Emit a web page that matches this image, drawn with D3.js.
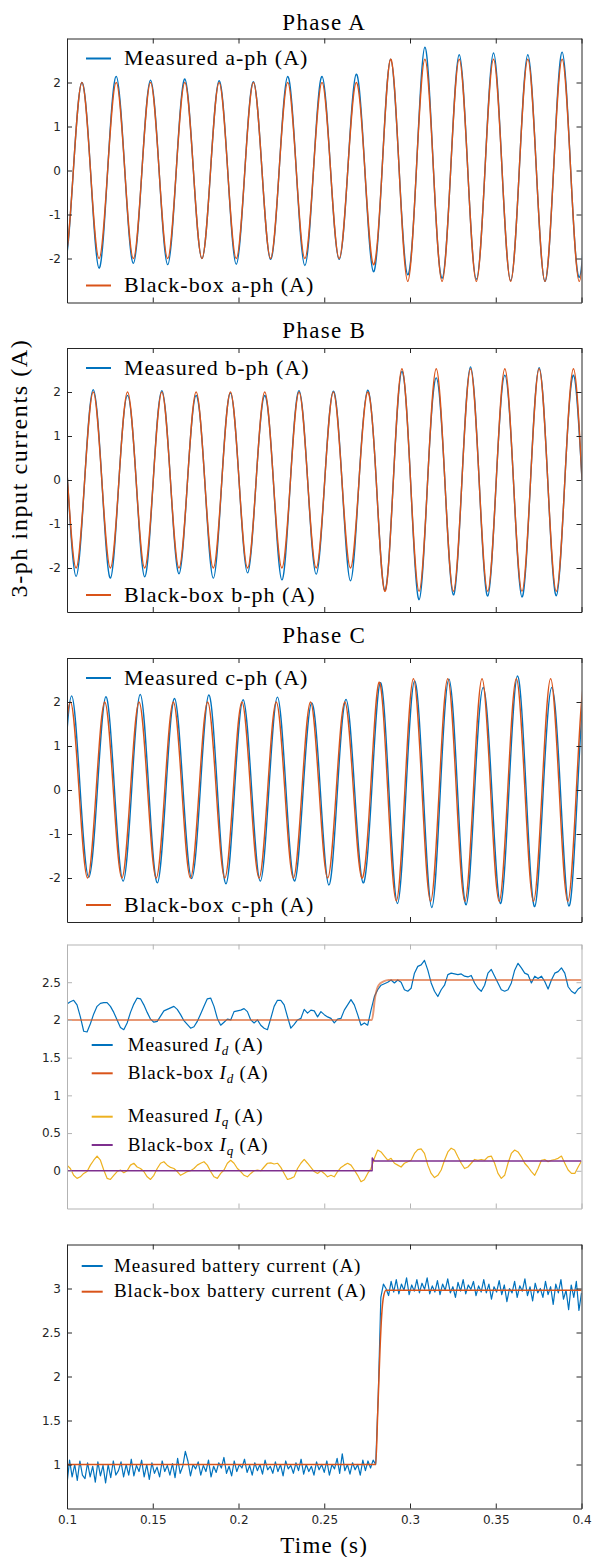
<!DOCTYPE html>
<html><head><meta charset="utf-8">
<script src="https://cdn.jsdelivr.net/npm/d3@7"></script>
<style>
body{margin:0;background:#fff;}
.serif{font-family:"Liberation Serif","DejaVu Serif","Noto Serif",serif;}
</style></head>
<body><svg id="chart" width="593" height="1557"></svg>
<script>
// ---------------- DATA ----------------
const xTicks = [0.1, 0.15, 0.2, 0.25, 0.3, 0.35, 0.4];
const phaseTicks = [-2, -1, 0, 1, 2];
const dqTicks = [0, 0.5, 1, 1.5, 2, 2.5];
const battTicks = [1, 1.5, 2, 2.5, 3];

// Phase currents: successive extrema (peak / trough) values, one every half period (0.01 s, 50 Hz grid)
const halfPeriod = 0.01;
const phaseA_t0 = 0.0987;           // time of first extremum
const phaseA_meas = [-2.1, 2.0, -2.22, 2.14, -2.11, 2.05, -2.14, 2.08, -2.0, 2.04, -2.13, 2.02, -2.02, 2.14, -2.16, 2.14, -2.02, 2.19, -2.30, 2.53, -2.37, 2.80, -2.45, 2.63, -2.47, 2.67, -2.5, 2.63, -2.52, 2.69, -2.43];
const phaseA_bb   = [-2.0, 2.0, -2.0, 2.0, -2.0, 2.0, -2.0, 2.0, -2.0, 2.0, -2.0, 2.0, -2.0, 2.0, -2.0, 2.0, -2.0, 2.0, -2.14, 2.53, -2.52, 2.53, -2.52, 2.53, -2.52, 2.53, -2.52, 2.53, -2.52, 2.53, -2.52];
const phaseB_t0 = 0.0953;
const phaseB_meas = [2.0, -2.19, 2.05, -2.23, 1.92, -2.2, 2.03, -2.13, 1.92, -2.23, 1.98, -2.11, 1.92, -2.27, 2.03, -2.14, 2.02, -2.29, 2.04, -2.51, 2.47, -2.72, 2.32, -2.61, 2.57, -2.64, 2.38, -2.66, 2.55, -2.63, 2.38];
const phaseB_bb   = [2.0, -2.0, 2.0, -2.0, 2.0, -2.0, 2.0, -2.0, 2.0, -2.0, 2.0, -2.0, 2.0, -2.0, 2.0, -2.0, 2.0, -2.0, 2.0, -2.53, 2.53, -2.53, 2.53, -2.53, 2.53, -2.53, 2.53, -2.53, 2.53, -2.53, 2.53];
const phaseC_t0 = 0.092;
const phaseC_measShift = 0.0007;
const phaseC_meas = [-2.0, 2.14, -1.98, 2.12, -2.07, 2.17, -2.11, 2.08, -2.01, 2.16, -2.13, 2.05, -2.07, 2.11, -2.07, 1.98, -2.16, 2.06, -2.11, 2.44, -2.58, 2.48, -2.67, 2.52, -2.61, 2.33, -2.58, 2.59, -2.65, 2.33, -2.64, 2.5];
const phaseC_bb   = [-2.0, 2.0, -2.0, 2.0, -2.0, 2.0, -2.0, 2.0, -2.0, 2.0, -2.0, 2.0, -2.0, 2.0, -2.0, 2.0, -2.0, 2.0, -2.0, 2.45, -2.52, 2.53, -2.53, 2.53, -2.53, 2.53, -2.53, 2.53, -2.53, 2.53, -2.53, 2.53];

// dq currents, sampled uniformly from 0.1 s to 0.4 s
const dqStart = 0.1, dqEnd = 0.4;
const id_meas = [2.21,2.24,2.26,2.2,2.04,1.85,1.84,1.95,2.08,2.18,2.22,2.23,2.23,2.18,2.1,2.0,1.9,1.87,1.96,2.1,
2.21,2.29,2.28,2.2,2.1,2.01,1.97,1.98,2.05,2.12,2.14,2.16,2.18,2.14,2.07,1.99,1.94,1.89,1.91,1.98,
2.08,2.18,2.28,2.29,2.18,2.02,1.93,1.97,2.01,2.0,2.11,2.12,2.13,2.15,2.11,2.0,1.96,2.0,1.93,1.89,
1.87,2.02,2.18,2.26,2.26,2.2,2.04,1.89,1.94,2.0,2.02,2.14,2.09,2.13,2.12,2.04,2.11,2.07,2.04,2.02,
1.96,2.01,2.02,2.13,2.2,2.27,2.2,2.07,1.93,1.96,1.93,2.13,2.31,2.4,2.46,2.48,2.5,2.53,2.49,2.53,
2.5,2.4,2.38,2.42,2.62,2.71,2.73,2.79,2.66,2.49,2.38,2.31,2.4,2.46,2.6,2.62,2.61,2.6,2.61,2.58,
2.57,2.59,2.49,2.42,2.38,2.46,2.62,2.67,2.58,2.49,2.4,2.38,2.4,2.49,2.66,2.75,2.69,2.62,2.6,2.49,
2.58,2.55,2.58,2.51,2.41,2.53,2.62,2.64,2.69,2.62,2.44,2.38,2.35,2.41,2.44];
const iq_meas = [0.075,0.03,-0.06,-0.1,-0.08,-0.035,-0.01,0.075,0.14,0.195,0.14,0.01,-0.1,-0.115,-0.06,-0.01,0.01,-0.025,0,0.075,
0.1,0.05,0.03,-0.01,-0.08,-0.115,-0.06,0.03,0.1,0.12,0.075,0.045,0.03,-0.01,-0.06,-0.035,-0.01,0,0.03,0.075,
0.1,0.12,0.075,-0.01,-0.08,-0.1,-0.035,0.01,0.1,0.14,0.1,0.03,-0.01,-0.06,-0.08,-0.035,0,0.01,0,0.05,
0.1,0.105,0.09,0.1,0.045,-0.035,-0.115,-0.1,-0.08,0.03,0.1,0.15,0.1,0.045,-0.01,-0.035,0,-0.035,-0.08,-0.06,
-0.08,-0.01,0.045,0.075,0.1,0.075,0.01,-0.06,-0.145,-0.12,-0.035,0.03,0.165,0.275,0.25,0.195,0.14,0.165,0.1,0.075,
0.05,0.1,0.12,0.14,0.23,0.28,0.29,0.23,0.075,-0.035,-0.09,-0.06,0.01,0.14,0.25,0.3,0.275,0.185,0.1,0.03,
0.05,0.1,0.15,0.14,0.15,0.14,0.185,0.195,0.1,-0.035,-0.1,-0.06,0.1,0.23,0.275,0.25,0.185,0.1,0.05,-0.01,
-0.06,0.03,0.14,0.15,0.12,0.14,0.15,0.165,0.195,0.1,0.01,-0.035,-0.035,0.05,0.13];
const id_bb_t = [0.1, 0.2778, 0.2797, 0.2817, 0.2846, 0.2875, 0.4];
const id_bb_v = [2.0, 2.0, 2.31, 2.46, 2.51, 2.53, 2.53];
const iq_bb_t = [0.1, 0.2779, 0.2780, 0.2790, 0.4];
const iq_bb_v = [0, 0, 0.17, 0.13, 0.13];

// battery current, sampled every 1.5 ms from 0.1 s
const battStart = 0.1, battDt = 0.0015;
const batt_meas = [0.78,1.05,0.86,1.0,0.82,1.04,0.88,0.84,1.02,0.86,0.98,0.8,1.03,0.87,0.99,0.79,1.0,0.85,1.04,0.88,
0.93,1.03,0.86,1.0,0.88,1.06,0.87,0.99,0.92,1.05,0.86,1.0,0.83,1.02,0.9,0.97,0.86,1.04,0.92,0.99,
0.88,1.01,0.85,1.07,0.9,0.98,1.15,1.04,0.87,1.0,0.95,1.03,0.88,0.99,0.92,1.05,0.86,0.98,0.91,1.02,
0.96,1.08,0.9,0.98,0.87,1.04,0.92,1.0,0.96,1.06,0.91,0.99,0.88,1.02,0.93,1.0,0.89,1.05,0.94,0.98,
0.9,1.03,0.92,1.0,0.87,1.04,0.95,0.99,0.9,1.02,0.93,1.06,0.89,1.0,0.92,0.98,0.88,1.03,0.94,1.0,
0.91,1.04,0.88,1.0,0.95,1.07,0.9,1.12,0.93,1.0,0.89,1.02,0.94,1.0,0.88,1.05,0.93,1.04,0.96,1.05,1.0,
1.8,2.9,3.05,
3.0,2.92,3.08,2.96,3.1,2.94,3.05,2.98,3.12,2.93,3.04,2.97,3.1,2.95,3.06,2.99,3.12,2.94,3.03,2.96,
3.09,2.93,3.05,2.98,3.11,2.95,3.02,2.9,3.07,2.97,3.1,2.94,3.04,2.99,3.08,2.92,3.03,2.96,3.1,2.95,
3.05,2.88,3.02,2.96,3.09,2.93,3.04,2.85,3.0,2.95,3.08,2.9,3.03,2.97,3.11,2.92,3.02,2.86,3.06,2.95,
3.0,2.9,3.08,2.93,3.02,2.82,3.05,2.95,3.1,2.88,2.98,2.76,3.04,2.9,3.08,2.75,2.95];
const batt_bb_t = [0.1, 0.2800, 0.2812, 0.2825, 0.2835, 0.2845, 0.2860, 0.4];
const batt_bb_v = [1.0, 1.0, 1.6, 2.3, 2.7, 2.9, 2.98, 2.98];

// ---------------- DRAWING ----------------
const COL_BLUE = '#0072BD', COL_ORANGE = '#D95319', COL_YELLOW = '#EDB120', COL_PURPLE = '#7E2F8E';
const SANS = '"DejaVu Sans", sans-serif';
const svg = d3.select('#chart');
const X0 = 67, X1 = 581.5;
const x = d3.scaleLinear().domain([0.1, 0.4]).range([X0, X1]);

let clipId = 0;
function panel(top, bottom, domain, ticks, axisColor, showXLabels) {
  const y = d3.scaleLinear().domain(domain).range([bottom, top]);
  const id = 'clip' + (clipId++);
  svg.append('clipPath').attr('id', id).append('rect')
    .attr('x', X0).attr('y', top).attr('width', X1 - X0).attr('height', bottom - top);
  const plot = svg.append('g').attr('clip-path', `url(#${id})`);
  const ax = svg.append('g');
  const fmt = d => String(d);
  const style = (g) => {
    g.select('.domain').attr('stroke', axisColor).attr('stroke-width', 1);
    g.selectAll('.tick line').attr('stroke', axisColor).attr('stroke-width', 1);
    g.selectAll('.tick text').attr('fill', '#262626').style('font-family', SANS).style('font-size', '12px');
  };
  ax.append('g').attr('transform', `translate(${X0},0)`)
    .call(d3.axisLeft(y).tickValues(ticks).tickSizeInner(-5).tickSizeOuter(0).tickPadding(6).tickFormat(fmt)).call(style);
  ax.append('g').attr('transform', `translate(${X1},0)`)
    .call(d3.axisRight(y).tickValues(ticks).tickSizeInner(-5).tickSizeOuter(0).tickFormat('')).call(style);
  ax.append('g').attr('transform', `translate(0,${top})`)
    .call(d3.axisTop(x).tickValues(xTicks).tickSizeInner(-5).tickSizeOuter(0).tickFormat('')).call(style);
  ax.append('g').attr('transform', `translate(0,${bottom})`)
    .call(d3.axisBottom(x).tickValues(xTicks).tickSizeInner(-5).tickSizeOuter(0).tickPadding(6.5).tickFormat(showXLabels ? fmt : '')).call(style);
  return {y, plot, top, bottom};
}

function extremaPoints(t0, vals) {
  const pts = [[t0 - halfPeriod / 2, 0]];
  vals.forEach((v, i) => {
    const t = t0 + i * halfPeriod;
    pts.push([t, v]);
    pts.push([t + halfPeriod / 2, 0]);
  });
  return pts;
}

function drawLine(p, pts, color, width, curve, opacity) {
  const line = d3.line().x(d => x(d[0])).y(d => p.y(d[1])).curve(curve || d3.curveLinear);
  p.plot.append('path').datum(pts).attr('d', line)
    .attr('fill', 'none').attr('stroke', color).attr('stroke-width', width)
    .attr('stroke-opacity', opacity == null ? 1 : opacity).attr('stroke-linejoin', 'round');
}

function legendItem(xl0, xl1, xt, y, color, text, size, spacing) {
  svg.append('line').attr('x1', xl0).attr('x2', xl1).attr('y1', y).attr('y2', y)
    .attr('stroke', color).attr('stroke-width', 2);
  return svg.append('text').attr('class', 'serif').attr('x', xt).attr('y', y + size * 0.3)
    .style('font-size', size + 'px').style('letter-spacing', spacing + 'px')
    .attr('fill', '#000').text(text);
}

function title(txt, yb) {
  svg.append('text').attr('class', 'serif').attr('x', (X0 + X1) / 2).attr('y', yb).attr('text-anchor', 'middle')
    .style('font-size', '23px').style('letter-spacing', '1.3px').text(txt);
}

// Phase panels
const phases = [
  {name: 'Phase A', tb: 30, top: 38.5, bottom: 302.5, t0: phaseA_t0, meas: phaseA_meas, bb: phaseA_bb, shift: 0, lab: 'a'},
  {name: 'Phase B', tb: 338, top: 348, bottom: 612, t0: phaseB_t0, meas: phaseB_meas, bb: phaseB_bb, shift: 0, lab: 'b'},
  {name: 'Phase C', tb: 643, top: 658, bottom: 922, t0: phaseC_t0, meas: phaseC_meas, bb: phaseC_bb, shift: phaseC_measShift, lab: 'c'}
];
phases.forEach(ph => {
  title(ph.name, ph.tb);
  const p = panel(ph.top, ph.bottom, [-3, 3], phaseTicks, '#262626', false);
  drawLine(p, extremaPoints(ph.t0 + ph.shift, ph.meas), COL_BLUE, 1.4, d3.curveNatural);
  drawLine(p, extremaPoints(ph.t0, ph.bb), COL_ORANGE, 1.4, d3.curveNatural);
  legendItem(86, 111, 124, ph.top + 20, COL_BLUE, `Measured ${ph.lab}-ph (A)`, 22, 1);
  legendItem(86, 111, 124, ph.bottom - 17, COL_ORANGE, `Black-box ${ph.lab}-ph (A)`, 22, 1);
});

// dq panel
{
  const p = panel(944.5, 1208.5, [-0.5, 3], dqTicks, '#b3b3b3', false);
  const dqDt = (dqEnd - dqStart) / (id_meas.length - 1);
  drawLine(p, id_meas.map((v, i) => [dqStart + i * dqDt, v]), COL_BLUE, 1.2);
  drawLine(p, id_bb_t.map((t, i) => [t, id_bb_v[i]]), COL_ORANGE, 2, d3.curveMonotoneX, 0.6);
  drawLine(p, iq_meas.map((v, i) => [dqStart + i * dqDt, v]), COL_YELLOW, 1.2);
  drawLine(p, iq_bb_t.map((t, i) => [t, iq_bb_v[i]]), COL_PURPLE, 1.5);
  const items = [
    [1045, COL_BLUE, 'Measured ', 'd'],
    [1073.3, COL_ORANGE, 'Black-box ', 'd'],
    [1116.7, COL_YELLOW, 'Measured ', 'q'],
    [1145, COL_PURPLE, 'Black-box ', 'q']
  ];
  items.forEach(it => {
    const t = legendItem(91.7, 112.7, 127.7, it[0], it[1], '', 19, 0.8);
    t.append('tspan').text(it[2]);
    t.append('tspan').style('font-style', 'italic').text('I');
    t.append('tspan').attr('dy', 4).style('font-style', 'italic').style('font-size', '13px').text(it[3]);
    t.append('tspan').attr('dy', -4).text(' (A)');
  });
}

// battery panel
{
  const p = panel(1244.5, 1508.5, [0.5, 3.5], battTicks, '#262626', true);
  drawLine(p, batt_meas.map((v, i) => [battStart + i * battDt, v]), COL_BLUE, 1.2);
  drawLine(p, batt_bb_t.map((t, i) => [t, batt_bb_v[i]]), COL_ORANGE, 1.5, d3.curveMonotoneX);
  legendItem(81.7, 102.7, 114, 1266, COL_BLUE, 'Measured battery current (A)', 19, 0.9);
  legendItem(81.7, 102.7, 114, 1291.7, COL_ORANGE, 'Black-box battery current (A)', 19, 0.9);
}

// axis labels
svg.append('text').attr('class', 'serif').attr('x', (X0 + X1) / 2).attr('y', 1553).attr('text-anchor', 'middle')
  .style('font-size', '23px').style('letter-spacing', '1.3px').text('Time (s)');
svg.append('text').attr('class', 'serif').attr('transform', 'translate(27,468) rotate(-90)').attr('text-anchor', 'middle')
  .style('font-size', '24px').style('letter-spacing', '1.6px').text('3-ph input currents (A)');
</script>
</body></html>
